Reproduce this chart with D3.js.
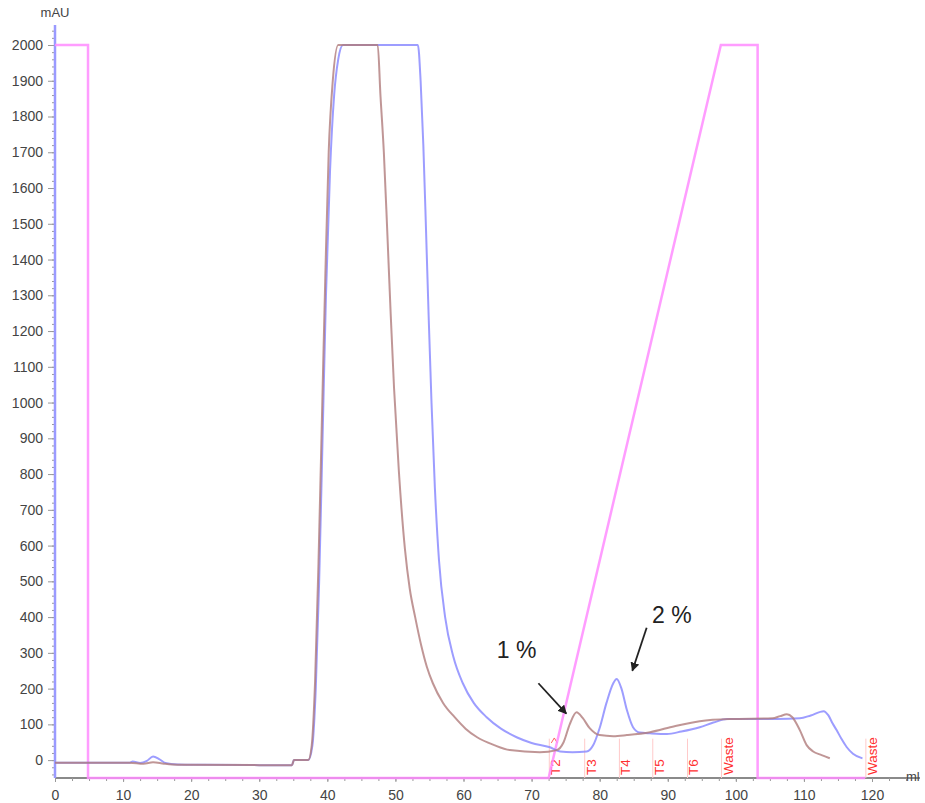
<!DOCTYPE html>
<html>
<head>
<meta charset="utf-8">
<script src="https://cdn.jsdelivr.net/npm/d3@7"></script>
<style>
  html, body { margin: 0; padding: 0; background: #fff; }
  svg { display: block; font-family: "Liberation Sans", Arial, sans-serif; }
</style>
</head>
<body>
<svg id="chart" width="925" height="803"></svg>
<script>
// UV trace, run A (blue): [volume ml, absorbance mAU]
const runA = [
  [0, -7], [11, -7], [11.4, -4], [12.5, -8], [13.5, -2], [14.4, 10], [15.3, 3], [16.2, -8],
  [18, -12], [22, -13], [30, -14], [34.8, -14], [35.1, 0], [37.2, 0], [37.8, 40], [38.3, 200],
  [38.8, 500], [39.3, 900], [39.8, 1300], [40.4, 1650], [41.0, 1860], [41.6, 1960], [42.3, 2000],
  [53.3, 2000], [53.7, 1900], [54.1, 1720], [54.5, 1480], [54.9, 1230], [55.3, 1000],
  [55.8, 760], [56.4, 559], [57.3, 400], [58.5, 290], [59.9, 215], [61.5, 160], [63.4, 120],
  [65.5, 88], [67.8, 64], [70, 48], [72.7, 36], [74.2, 24], [76, 22], [78.1, 24], [79, 40],
  [80, 90], [81, 160], [82, 215], [82.5, 227], [83.2, 200], [84, 140], [84.9, 92], [85.9, 77],
  [87.4, 75], [89.9, 73], [92, 80], [94.7, 92], [96.7, 105], [98.7, 115], [103.1, 115],
  [106, 115], [109.4, 117], [111, 125], [112.9, 137], [113.6, 125], [114.2, 103], [114.8, 84],
  [115.5, 60], [116.3, 36], [117.2, 18], [118.6, 5]
];

// UV trace, run B (brown): [volume ml, absorbance mAU]
const runB = [
  [0, -7], [11, -7], [13, -10], [14.4, -6], [16, -10], [18, -13], [30, -14], [34.8, -14],
  [35.1, 0], [37.2, 0], [37.7, 40], [38.2, 220], [38.7, 550], [39.2, 950], [39.7, 1350],
  [40.2, 1700], [40.8, 1900], [41.6, 2000], [47.4, 2000], [47.8, 1860], [48.3, 1700],
  [48.8, 1480], [49.3, 1250], [49.8, 1040], [50.5, 810], [51.4, 590], [52.1, 480],
  [52.9, 400], [53.8, 320], [54.6, 262], [55.5, 215], [57, 160], [58.7, 120], [60.3, 88],
  [62.0, 64], [64.5, 42], [66.8, 28], [71.2, 22], [73.7, 28], [74.7, 50], [75.6, 100],
  [76.6, 134], [77.5, 118], [78.5, 90], [80, 70], [82, 67], [84, 70], [87.4, 78], [91, 95],
  [94.7, 109], [99.1, 115], [105.4, 117], [106.5, 123], [107.5, 128], [108.3, 120],
  [109.4, 84], [110.4, 42], [111.3, 25], [112.6, 14], [113.8, 5]
];

// Elution gradient: [volume ml, % buffer B]
const gradient = [
  [0, 100], [4.85, 100], [4.85, 0], [72.5, 0], [97.8, 100], [103.2, 100], [103.2, 0], [119, 0]
];

// Fraction marks: start volume and label
const fractionVols = [72.6, 77.8, 82.9, 87.8, 92.9, 97.9, 119.1];
const fractionLabels = ["T2", "T3", "T4", "T5", "T6", "Waste", "Waste"];

// Peak annotations: text, text anchor position, arrow tail and head in data units
const noteTexts = ["1 %", "2 %"];
const noteAt = [[64.9, 285], [87.7, 383]];
const arrowFrom = [[71.0, 215], [86.9, 370]];
const arrowTo = [[75.1, 130], [84.8, 250]];

const xTicks = d3.range(0, 121, 10);
const xMinor = d3.range(0, 125.1, 2.5);
const yTicks = d3.range(0, 2001, 100);
const yMinor = d3.range(-40, 2041, 20);

const svg = d3.select("#chart");

const x = d3.scaleLinear().domain([0, 120]).range([55, 872]);
const y = d3.scaleLinear().domain([-50, 2000]).range([778, 45]);
const yPct = d3.scaleLinear().domain([0, 100]).range([778, 45]);

const xMax = x.invert(920);
const yTop = y.invert(25);

// x axis: gray baseline with minor and major ticks
svg.append("line")
  .attr("x1", x(0)).attr("x2", x(xMax))
  .attr("y1", y(-50)).attr("y2", y(-50))
  .attr("stroke", "#8a8a8a").attr("stroke-width", 2);

const xAxisMinor = d3.axisBottom(x).tickValues(xMinor).tickSize(3).tickFormat("");
svg.append("g").attr("transform", `translate(0,${y(-50)})`).call(xAxisMinor)
  .call(g => g.select(".domain").remove())
  .call(g => g.selectAll("line").attr("stroke", "#999"));

const xAxis = d3.axisBottom(x).tickValues(xTicks).tickSize(4).tickPadding(8)
  .tickFormat(d3.format("d"));
svg.append("g").attr("transform", `translate(0,${y(-50)})`).call(xAxis)
  .call(g => g.select(".domain").remove())
  .call(g => g.selectAll("line").attr("stroke", "#999"))
  .call(g => g.selectAll("text").attr("fill", "#444").attr("font-size", 14)
    .attr("font-family", "Liberation Sans, Arial, sans-serif"));

svg.append("text").attr("x", 906).attr("y", 781)
  .attr("font-size", 13).attr("fill", "#444").text("ml");

// y axis: ticks and labels, blue axis line
const yAxisMinor = d3.axisLeft(y).tickValues(yMinor).tickSize(3).tickFormat("");
svg.append("g").attr("transform", `translate(${x(0)},0)`).call(yAxisMinor)
  .call(g => g.select(".domain").remove())
  .call(g => g.selectAll("line").attr("stroke", "#999"));

const yAxis = d3.axisLeft(y).tickValues(yTicks).tickSize(6).tickPadding(5)
  .tickFormat(d3.format("d"));
svg.append("g").attr("transform", `translate(${x(0) - 1},0)`).call(yAxis)
  .call(g => g.select(".domain").remove())
  .call(g => g.selectAll("line").attr("stroke", "#999"))
  .call(g => g.selectAll("text").attr("fill", "#444").attr("font-size", 14)
    .attr("font-family", "Liberation Sans, Arial, sans-serif"));

svg.append("line")
  .attr("x1", x(0)).attr("x2", x(0))
  .attr("y1", y(yTop)).attr("y2", y(-50))
  .attr("stroke", "#9a9aff").attr("stroke-width", 2.5);

svg.append("text").attr("x", x(0)).attr("y", 17).attr("text-anchor", "middle")
  .attr("font-size", 13).attr("fill", "#444").text("mAU");

// fraction marks
const frac = svg.append("g");
fractionVols.forEach((v, i) => {
  frac.append("line")
    .attr("x1", x(v)).attr("x2", x(v))
    .attr("y1", y(-50)).attr("y2", y(60))
    .attr("stroke", "#ffcaca").attr("stroke-width", 1);
  const tx = x(v) + 11;
  const ty = y(-50) - 3;
  frac.append("text")
    .attr("transform", `translate(${tx},${ty}) rotate(-90)`)
    .attr("font-size", 13.5).attr("fill", "#ff3030")
    .text(fractionLabels[i]);
});
// injection marker above the first fraction
svg.append("path")
  .attr("d", `M${x(fractionVols[0]) + 2},${y(48)} l3,-5 l3,5`)
  .attr("fill", "none").attr("stroke", "#ff6060").attr("stroke-width", 1);

// gradient
svg.append("path")
  .datum(gradient)
  .attr("d", d3.line().x(d => x(d[0])).y(d => yPct(d[1])))
  .attr("fill", "none").attr("stroke", "#ff8cff").attr("stroke-width", 2.5)
  .attr("stroke-opacity", 0.85);

// UV traces
svg.append("path")
  .datum(runA)
  .attr("d", d3.line().x(d => x(d[0])).y(d => y(d[1])).curve(d3.curveMonotoneX))
  .attr("fill", "none").attr("stroke", "#8c8cff").attr("stroke-width", 2)
  .attr("stroke-opacity", 0.85);

svg.append("path")
  .datum(runB)
  .attr("d", d3.line().x(d => x(d[0])).y(d => y(d[1])).curve(d3.curveMonotoneX))
  .attr("fill", "none").attr("stroke", "#b07c7c").attr("stroke-width", 2)
  .attr("stroke-opacity", 0.8);

// annotations with arrows
const defs = svg.append("defs");
defs.append("marker")
  .attr("id", "arrowhead").attr("viewBox", "0 0 10 10")
  .attr("refX", 9).attr("refY", 5)
  .attr("markerWidth", 5).attr("markerHeight", 5)
  .attr("orient", "auto")
  .append("path").attr("d", "M0,0 L10,5 L0,10 z").attr("fill", "#222");

noteTexts.forEach((t, i) => {
  svg.append("text")
    .attr("x", x(noteAt[i][0])).attr("y", y(noteAt[i][1]))
    .attr("font-size", 23).attr("fill", "#222").text(t);
  svg.append("line")
    .attr("x1", x(arrowFrom[i][0])).attr("y1", y(arrowFrom[i][1]))
    .attr("x2", x(arrowTo[i][0])).attr("y2", y(arrowTo[i][1]))
    .attr("stroke", "#222").attr("stroke-width", 1.8)
    .attr("marker-end", "url(#arrowhead)");
});
</script>
</body>
</html>
